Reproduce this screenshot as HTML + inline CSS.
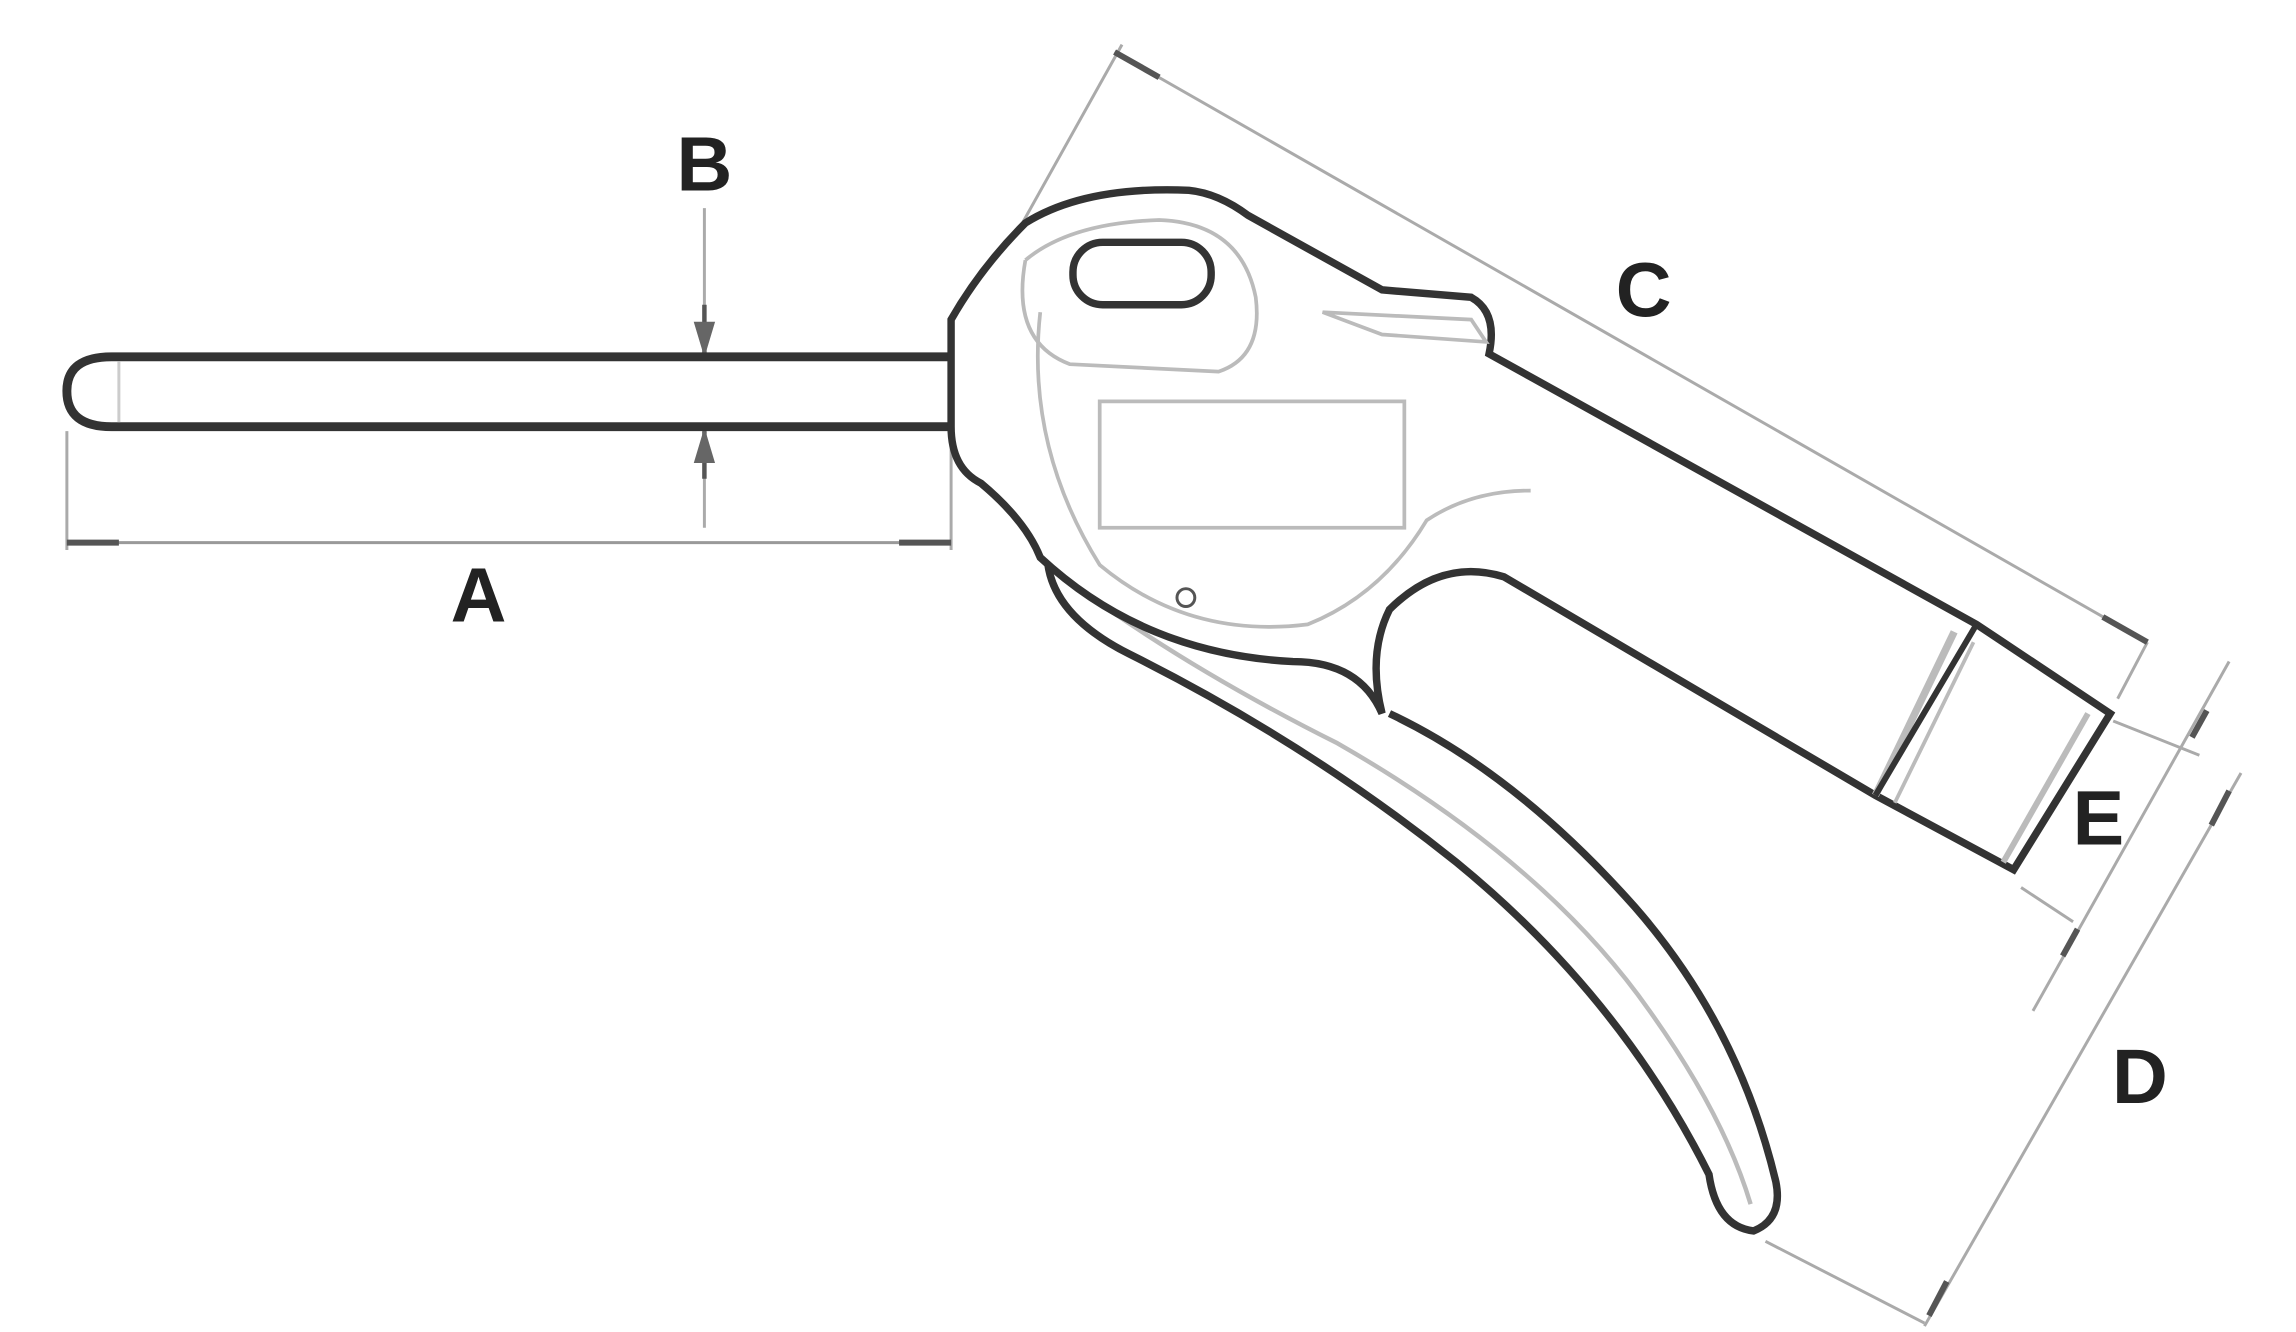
<!DOCTYPE html>
<html><head><meta charset="utf-8"><style>
html,body{margin:0;padding:0;background:#fff;}
svg{display:block;}
text{font-family:"Liberation Sans",sans-serif;font-weight:bold;fill:#222;}
</style></head><body>
<svg width="2296" height="1332" viewBox="0 0 1545 896" preserveAspectRatio="none">
<defs>
<marker id="ar" viewBox="0 0 10 10" refX="9" refY="5" markerWidth="8" markerHeight="8" orient="auto-start-reverse"><path d="M0,2 L10,5 L0,8z" fill="#666"/></marker>
</defs>
<g stroke="#aaa" stroke-width="2" fill="none">
<!-- A -->
<line x1="45" y1="290" x2="45" y2="370"/>
<line x1="640" y1="300" x2="640" y2="370"/>
<line x1="45" y1="365" x2="640" y2="365" stroke="#999"/>
<line x1="45" y1="365" x2="80" y2="365" stroke="#555" stroke-width="4"/>
<line x1="605" y1="365" x2="640" y2="365" stroke="#555" stroke-width="4"/>
<!-- B -->
<line x1="474" y1="140" x2="474" y2="355"/>
<line x1="474" y1="205" x2="474" y2="238" stroke="#555" stroke-width="3" marker-end="url(#ar)"/>
<line x1="474" y1="322" x2="474" y2="290" stroke="#555" stroke-width="3" marker-end="url(#ar)"/>
<!-- C -->
<line x1="750" y1="35" x2="1445" y2="432"/>
<line x1="755" y1="30" x2="688" y2="150"/>
<line x1="1445" y1="432" x2="1425" y2="470"/>
<line x1="750" y1="35" x2="780" y2="52" stroke="#555" stroke-width="4"/>
<line x1="1415" y1="415" x2="1445" y2="432" stroke="#555" stroke-width="4"/>
<!-- E -->
<line x1="1500" y1="445" x2="1368" y2="680"/>
<line x1="1422" y1="485" x2="1480" y2="508"/>
<line x1="1360" y1="597" x2="1395" y2="620"/>
<line x1="1485" y1="478" x2="1475" y2="496" stroke="#555" stroke-width="4"/>
<line x1="1398" y1="625" x2="1388" y2="643" stroke="#555" stroke-width="4"/>
<!-- D -->
<line x1="1508" y1="520" x2="1295" y2="892"/>
<line x1="1188" y1="835" x2="1295" y2="890"/>
<line x1="1500" y1="532" x2="1488" y2="555" stroke="#555" stroke-width="4"/>
<line x1="1310" y1="862" x2="1298" y2="885" stroke="#555" stroke-width="4"/>
</g>
<!-- nozzle -->
<g stroke="#333" fill="#fff">
<path d="M640,240 L75,240 Q45,240 45,263 Q45,287 75,287 L640,287" stroke-width="6"/>
<line x1="80" y1="243" x2="80" y2="284" stroke="#ccc" stroke-width="2"/>
</g>
<!-- trigger -->
<path d="M705,365 Q700,410 760,440 Q880,500 980,580 Q1090,670 1150,790 Q1155,825 1180,828 Q1200,820 1195,795 Q1170,690 1100,610 Q1020,520 935,480" fill="#fff" stroke="#333" stroke-width="5"/>
<path d="M725,395 Q800,450 900,500 Q1040,580 1110,680 Q1160,750 1178,810" fill="none" stroke="#bbb" stroke-width="3"/>
<!-- body -->
<path d="M640,240 L640,215 Q660,180 690,150 Q730,125 800,128 Q820,130 840,145 L930,195 L990,200 Q1008,210 1002,238 L1330,420 L1420,480 L1355,585 L1262,535 L1012,388 Q970,375 935,410 Q920,440 930,480 Q915,445 870,445 Q770,440 700,375 Q690,350 660,325 Q640,315 640,287 Z" fill="#fff" stroke="#333" stroke-width="5"/>
<g fill="none" stroke="#bbb" stroke-width="2.5">
<path d="M690,175 Q680,230 720,245 L820,250 Q850,240 845,200 Q835,150 780,148 Q720,150 690,175"/>
<path d="M700,210 Q690,300 740,380 Q800,430 880,420 Q930,400 960,350 Q990,330 1030,330"/>
<path d="M890,210 L990,215 L1000,230 L930,225 Z"/>
<rect x="740" y="270" width="205" height="85"/>
<line x1="1262" y1="535" x2="1315" y2="425" stroke-width="5"/>
<line x1="1275" y1="540" x2="1328" y2="432"/>
<line x1="1348" y1="580" x2="1405" y2="480" stroke-width="4"/>
</g>
<path d="M1330,420 L1262,535" stroke="#333" stroke-width="4" fill="none"/>
<rect x="722" y="163" width="93" height="42" rx="20" fill="#fff" stroke="#333" stroke-width="5"/>
<circle cx="798" cy="402" r="6" fill="#fff" stroke="#555" stroke-width="2"/>
<text x="474" y="128" font-size="52" text-anchor="middle">B</text>
<text x="322" y="418" font-size="52" text-anchor="middle">A</text>
<text x="1106" y="213" font-size="52" text-anchor="middle">C</text>
<text x="1412" y="568" font-size="52" text-anchor="middle">E</text>
<text x="1440" y="742" font-size="52" text-anchor="middle">D</text>
</svg>
</body></html>
